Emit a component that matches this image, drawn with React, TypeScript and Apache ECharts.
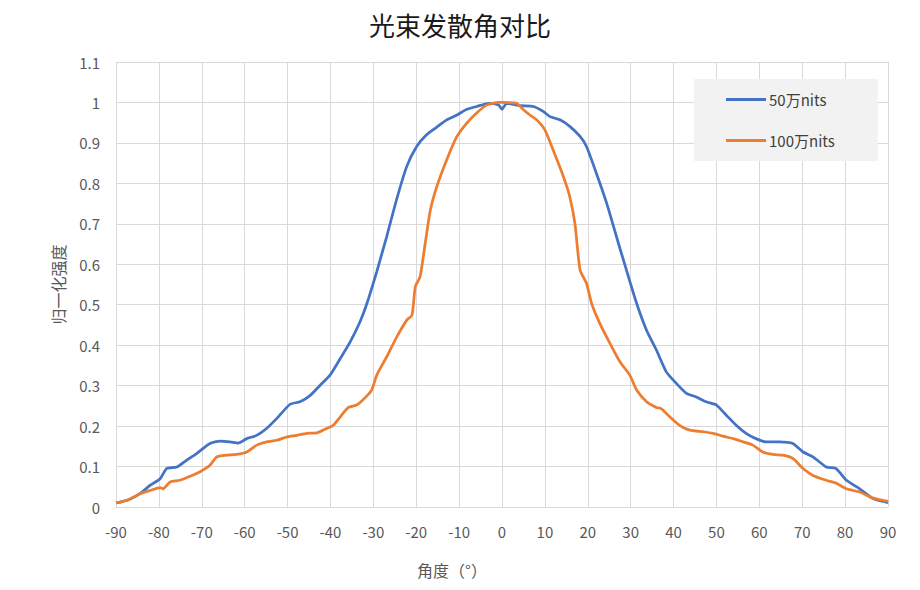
import React, { useEffect, useRef } from "react";
import * as echarts from "echarts";

const chartTitle = "光束发散角对比";
const xAxisTitle = "角度（°）";
const yAxisTitle = "归一化强度";
const seriesNames = ["50万nits", "100万nits"];

const angles50 = [-90, -89, -86.7, -84.4, -82, -79.7, -78.2, -75.8, -73.5, -71.2, -68.1, -65.7, -63.4, -61.5, -59.5, -57.2, -54.9, -52.5, -49.4, -47.1, -44.7, -42.4, -40.1, -37.7, -35.4, -33.1, -31.5, -29.2, -26.9, -24.5, -22.2, -19.9, -17.6, -15.2, -12.9, -10.5, -8.2, -5.9, -3.1, -0.8, 0, 1.1, 4.2, 7.3, 9.6, 11.2, 13.5, 15.8, 18.2, 19.7, 22, 24.4, 26.7, 29, 31.4, 33.7, 36, 38.3, 40.7, 43, 45.3, 47.6, 50, 52.3, 54.6, 56.9, 59.2, 61.6, 64.7, 67.8, 70.2, 72.5, 75.6, 77.9, 80.3, 83.4, 86.5, 89.6, 90];
const values50 = [0.01, 0.012, 0.02, 0.033, 0.054, 0.07, 0.095, 0.099, 0.116, 0.132, 0.157, 0.163, 0.161, 0.158, 0.169, 0.177, 0.194, 0.219, 0.254, 0.26, 0.276, 0.301, 0.326, 0.367, 0.408, 0.458, 0.503, 0.582, 0.668, 0.763, 0.842, 0.891, 0.92, 0.939, 0.957, 0.969, 0.983, 0.99, 0.998, 0.994, 0.983, 0.998, 0.992, 0.99, 0.978, 0.965, 0.957, 0.941, 0.916, 0.891, 0.825, 0.751, 0.668, 0.586, 0.503, 0.437, 0.388, 0.334, 0.305, 0.281, 0.272, 0.26, 0.252, 0.227, 0.202, 0.182, 0.169, 0.161, 0.161, 0.157, 0.136, 0.124, 0.099, 0.095, 0.066, 0.045, 0.021, 0.012, 0.01];

const angles100 = [-90, -89, -86.7, -84.4, -82, -79.7, -79, -77.4, -75.1, -72.7, -70.4, -68.1, -66.5, -64.2, -61.9, -59.5, -57.2, -54.9, -52.5, -50.2, -47.9, -45.5, -43.2, -40.9, -39.3, -37.7, -35.8, -33.9, -32.3, -30.4, -29.2, -26.9, -24.5, -22.2, -21, -20.2, -19.1, -17.9, -16.7, -15.2, -12.9, -10.5, -8.2, -5.9, -3.5, -0.8, 0, 3.4, 5, 6.5, 8.1, 10, 11.9, 14.3, 15.8, 17, 18.2, 19.7, 20.9, 22.8, 25.2, 27.5, 29.8, 31.4, 33.7, 36, 37.1, 39.1, 41.4, 43.8, 46.9, 49.2, 51.5, 53.9, 56.2, 58.5, 60.8, 63.2, 65.5, 67.8, 70.2, 72.5, 75.6, 77.9, 80.3, 83.4, 86.5, 89.6, 90];
const values100 = [0.01, 0.012, 0.02, 0.033, 0.041, 0.048, 0.045, 0.062, 0.066, 0.076, 0.087, 0.103, 0.124, 0.128, 0.13, 0.136, 0.153, 0.161, 0.165, 0.173, 0.177, 0.182, 0.183, 0.194, 0.202, 0.223, 0.246, 0.252, 0.266, 0.289, 0.326, 0.371, 0.421, 0.462, 0.474, 0.545, 0.569, 0.652, 0.734, 0.792, 0.858, 0.916, 0.949, 0.974, 0.994, 1.0, 1.0, 0.998, 0.982, 0.969, 0.957, 0.932, 0.883, 0.817, 0.767, 0.701, 0.586, 0.553, 0.503, 0.454, 0.404, 0.359, 0.326, 0.289, 0.26, 0.246, 0.243, 0.223, 0.202, 0.19, 0.186, 0.182, 0.175, 0.169, 0.161, 0.153, 0.136, 0.13, 0.128, 0.12, 0.095, 0.078, 0.066, 0.059, 0.045, 0.037, 0.022, 0.015, 0.014];

const colors = ["#4472C4", "#ED7D31"];
const FONT = "'Noto Sans CJK SC', 'Noto Sans', sans-serif";

function pairs(xs: number[], ys: number[]) {
  return xs.map((x, i) => [x, ys[i]]);
}

export default function App() {
  const ref = useRef<HTMLDivElement>(null);
  useEffect(() => {
    if (!ref.current) return;
    const chart = echarts.init(ref.current, undefined, { renderer: "svg" });
    chart.setOption({
      animation: false,
      backgroundColor: "#ffffff",
      textStyle: { fontFamily: FONT },
      title: {
        text: chartTitle,
        left: "center",
        top: 6,
        textStyle: { fontSize: 26, fontWeight: "normal", color: "#1a1a1a", fontFamily: FONT },
      },
      legend: {
        orient: "vertical",
        left: 694,
        top: 79,
        backgroundColor: "#f2f2f2",
        padding: [13, 43, 13, 32],
        itemGap: 26,
        itemWidth: 40,
        itemHeight: 3,
        icon: "rect",
        textStyle: { fontSize: 15, color: "#404040", fontFamily: FONT, lineHeight: 15, padding: [0, 0, 0, -2] },
        data: seriesNames,
      },
      grid: { left: 116, right: 32, top: 62, bottom: 83, containLabel: false },
      xAxis: {
        type: "value",
        min: -90,
        max: 90,
        interval: 10,
        axisLine: { show: true, lineStyle: { color: "#d9d9d9", width: 1 } },
        axisTick: { show: false },
        axisLabel: { fontSize: 15, color: "#595959", margin: 17, fontFamily: FONT },
        splitLine: { show: true, lineStyle: { color: "#d9d9d9", width: 1 } },
      },
      yAxis: {
        type: "value",
        min: 0,
        max: 1.1,
        interval: 0.1,
        name: yAxisTitle,
        nameLocation: "middle",
        nameGap: 50,
        nameTextStyle: { fontSize: 16, color: "#595959", fontFamily: FONT },
        axisLine: { show: false },
        axisTick: { show: false },
        axisLabel: {
          fontSize: 15,
          color: "#595959",
          margin: 16,
          fontFamily: FONT,
          formatter: (v: number) => String(Math.round(v * 10) / 10),
        },
        splitLine: { show: true, lineStyle: { color: "#d9d9d9", width: 1 } },
      },
      graphic: [
        {
          type: "text",
          left: 417,
          top: 562,
          style: { text: xAxisTitle, fontSize: 16, fill: "#595959", fontFamily: FONT },
        },
      ],
      series: [
        {
          name: seriesNames[0],
          type: "line",
          data: pairs(angles50, values50),
          showSymbol: false,
          symbol: "none",
          smooth: 0.2,
          lineStyle: { color: colors[0], width: 2.75 },
          itemStyle: { color: colors[0] },
        },
        {
          name: seriesNames[1],
          type: "line",
          data: pairs(angles100, values100),
          showSymbol: false,
          symbol: "none",
          smooth: 0.2,
          lineStyle: { color: colors[1], width: 2.75 },
          itemStyle: { color: colors[1] },
        },
      ],
    });
    return () => chart.dispose();
  }, []);
  return (
    <div
      ref={ref}
      style={{ position: "fixed", left: 0, top: 0, width: 920, height: 590 }}
    />
  );
}
